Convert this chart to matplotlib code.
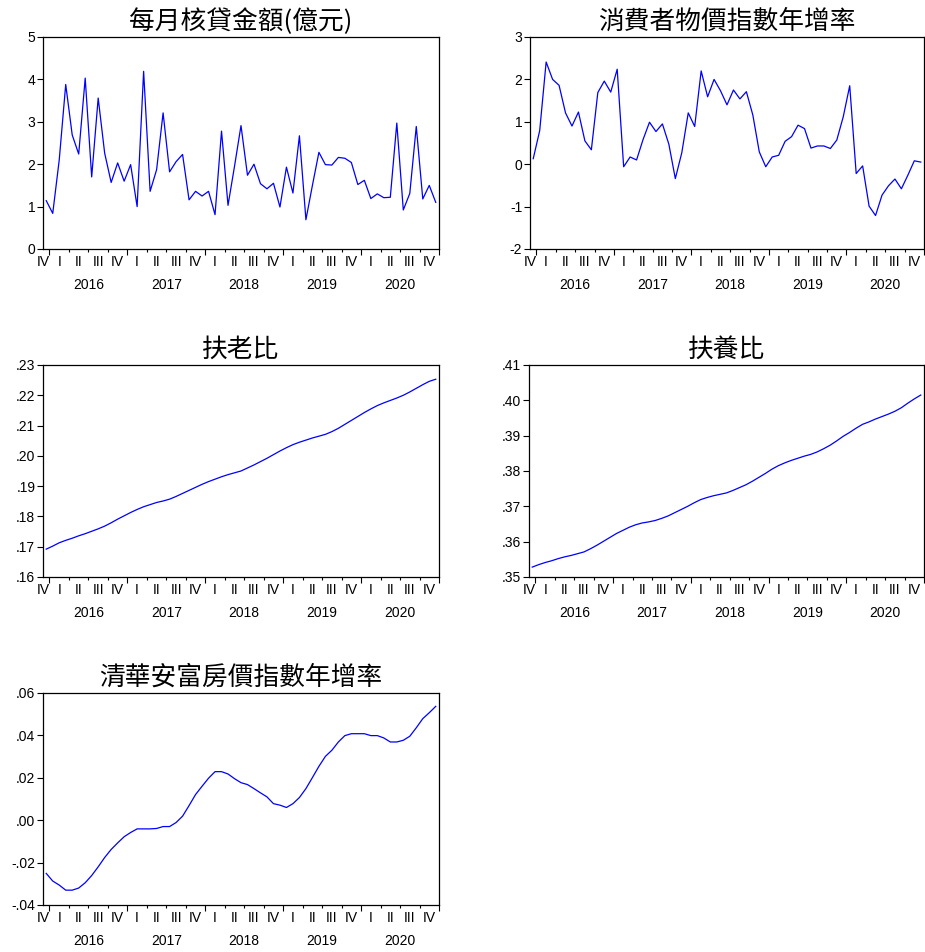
import matplotlib
matplotlib.use("Agg")
import matplotlib.pyplot as plt
from matplotlib.ticker import FixedLocator, FuncFormatter, NullFormatter
import numpy as np

# Monthly observations, 2015M12 through 2020M12 (61 months)
periods = ["2015-12"] + [f"{y}-{m:02d}" for y in range(2016, 2021) for m in range(1, 13)]

loans = [1.14, 0.84, 2.10, 3.88, 2.69, 2.24, 4.03, 1.70, 3.56, 2.26,
         1.57, 2.03, 1.60, 1.99, 1.00, 4.19, 1.36, 1.87, 3.21, 1.82,
         2.06, 2.23, 1.16, 1.36, 1.25, 1.36, 0.81, 2.78, 1.03, 1.95,
         2.91, 1.74, 2.00, 1.54, 1.42, 1.55, 0.99, 1.93, 1.32, 2.67,
         0.69, 1.50, 2.28, 1.99, 1.98, 2.16, 2.14, 2.04, 1.52, 1.62,
         1.19, 1.30, 1.21, 1.22, 2.97, 0.92, 1.31, 2.89, 1.18, 1.50,
         1.10]

cpi = [0.13, 0.79, 2.41, 2.00, 1.86, 1.21, 0.90, 1.23, 0.55, 0.34,
       1.69, 1.96, 1.70, 2.24, -0.06, 0.17, 0.10, 0.58, 0.99, 0.77,
       0.95, 0.47, -0.34, 0.27, 1.21, 0.89, 2.20, 1.59, 2.00, 1.73,
       1.40, 1.75, 1.54, 1.71, 1.16, 0.29, -0.06, 0.17, 0.21, 0.54,
       0.65, 0.92, 0.84, 0.38, 0.43, 0.43, 0.37, 0.57, 1.12, 1.85,
       -0.22, -0.04, -0.99, -1.21, -0.73, -0.51, -0.35, -0.58, -0.26, 0.08,
       0.05]

old_age = [.1692, .1702, .1713, .1721, .1728, .1736, .1743, .1751, .1759, .1768,
           .1779, .1791, .1802, .1813, .1823, .1832, .1839, .1846, .1851, .1857,
           .1866, .1876, .1886, .1896, .1906, .1915, .1923, .1931, .1938, .1944,
           .1950, .1960, .1970, .1981, .1992, .2004, .2016, .2027, .2037, .2045,
           .2052, .2059, .2065, .2071, .2080, .2091, .2104, .2117, .2130, .2143,
           .2155, .2166, .2175, .2183, .2191, .2200, .2211, .2223, .2235, .2246,
           .2253]

dependency = [.3528, .3535, .3541, .3546, .3552, .3557, .3561, .3566, .3571, .3580,
              .3590, .3601, .3612, .3623, .3632, .3641, .3648, .3653, .3656, .3660,
              .3666, .3673, .3682, .3691, .3700, .3710, .3719, .3725, .3730, .3734,
              .3738, .3745, .3753, .3761, .3771, .3782, .3793, .3805, .3815, .3823,
              .3830, .3836, .3842, .3847, .3854, .3863, .3873, .3885, .3898, .3909,
              .3921, .3932, .3939, .3947, .3954, .3961, .3969, .3979, .3992, .4004,
              .4015]

house = [-.0251, -.0287, -.0306, -.0330, -.0330, -.0320, -.0295, -.0261, -.0220, -.0176,
         -.0138, -.0107, -.0078, -.0058, -.0041, -.0041, -.0041, -.0039, -.0030, -.0030,
         -.0011, .0019, .0069, .0121, .0160, .0198, .0229, .0229, .0218, .0196,
         .0177, .0168, .0149, .0129, .0110, .0078, .0071, .0060, .0078, .0107,
         .0149, .0201, .0254, .0301, .0330, .0369, .0399, .0408, .0408, .0408,
         .0399, .0399, .0388, .0369, .0369, .0377, .0396, .0436, .0479, .0507,
         .0537]

titles = ["每月核貸金額(億元)", "消費者物價指數年增率", "扶老比", "扶養比", "清華安富房價指數年增率"]
yticks = [[0, 1, 2, 3, 4, 5],
          [-2, -1, 0, 1, 2, 3],
          [.16, .17, .18, .19, .20, .21, .22, .23],
          [.35, .36, .37, .38, .39, .40, .41],
          [-.04, -.02, .00, .02, .04, .06]]
roman = ["I", "II", "III", "IV"]

W, H = 925, 952
fig = plt.figure(figsize=(W / 100, H / 100), dpi=100)
fig.patch.set_facecolor("white")

TICK_FONT = "Liberation Sans"
TITLE_FONT = ["Noto Sans CJK TC", "DejaVu Sans"]

# panel boxes in pixels: left, top, right, bottom
boxes = [(43, 37, 439, 249),
         (530, 37, 924, 249),
         (43, 365, 439, 577),
         (529, 365, 924, 577),
         (43, 693, 439, 905)]

x = np.arange(len(periods))
yr = [int(p[:4]) for p in periods]
mo = [int(p[5:]) for p in periods]
qtr = [(m - 1) // 3 for m in mo]

# boundaries between quarters / years (halfway between months)
q_bounds = [i - 0.5 for i in range(1, len(x)) if qtr[i] != qtr[i - 1]] + [len(x) - 0.5]
y_bounds = [i - 0.5 for i in range(1, len(x)) if yr[i] != yr[i - 1]] + [len(x) - 0.5]
q_minor = [b for b in q_bounds if b not in y_bounds]

# label positions: centre of the months in each quarter / year
q_groups = {}
for i in x:
    q_groups.setdefault((yr[i], qtr[i]), []).append(i)
y_groups = {}
for i in x:
    y_groups.setdefault(yr[i], []).append(i)


def fmt_dec(v, pos):
    s = f"{v:.2f}"
    return s.replace("0.", ".", 1)


def fmt_int(v, pos):
    return f"{int(round(v))}"


series = [loans, cpi, old_age, dependency, house]
for k, (vals, title, yt, box) in enumerate(zip(series, titles, yticks, boxes)):
    l, t, r, b = box
    ax = fig.add_axes([l / W, 1 - b / H, (r - l) / W, (b - t) / H])
    ax.plot(x, vals, color="#0000ff", lw=0.9)
    ax.set_xlim(-0.5, len(x) - 0.5)
    ax.set_ylim(yt[0], yt[-1])
    ax.yaxis.set_major_locator(FixedLocator(yt))
    ax.yaxis.set_major_formatter(FuncFormatter(fmt_int if k < 2 else fmt_dec))
    ax.xaxis.set_major_locator(FixedLocator(y_bounds))
    ax.xaxis.set_minor_locator(FixedLocator(q_minor))
    ax.xaxis.set_major_formatter(NullFormatter())
    ax.tick_params(axis="x", which="major", direction="out", length=4, width=0.8, color="black")
    ax.tick_params(axis="x", which="minor", direction="out", length=2.3, width=0.8, color="black")
    ax.tick_params(axis="y", direction="out", length=4, width=0.8, pad=1.5,
                   labelsize=10, labelcolor="black")
    for lab in ax.get_yticklabels():
        lab.set_fontfamily(TICK_FONT)
    for sp in ax.spines.values():
        sp.set_linewidth(0.9)
        sp.set_color("black")

    for (yy, qq), idx in q_groups.items():
        pos = float(np.mean(idx))
        if len(idx) < 3:
            pos = -0.4
        ax.annotate(roman[qq], xy=(pos, 0), xycoords=("data", "axes fraction"),
                    xytext=(0, -9.7), textcoords="offset points",
                    ha="center", va="center", fontsize=10, family=TICK_FONT)
    for yy, idx in y_groups.items():
        if len(idx) < 12:
            continue
        ax.annotate(str(yy), xy=(float(np.mean(idx)), 0), xycoords=("data", "axes fraction"),
                    xytext=(0, -25.6), textcoords="offset points",
                    ha="center", va="center", fontsize=10, family=TICK_FONT)

    ax.annotate(title, xy=(0.5, 1), xycoords="axes fraction",
                xytext=(0, 11), textcoords="offset points",
                ha="center", va="center", fontsize=18.5, fontweight="light",
                family=TITLE_FONT)

fig.savefig("out.png", dpi=100, facecolor="white")
